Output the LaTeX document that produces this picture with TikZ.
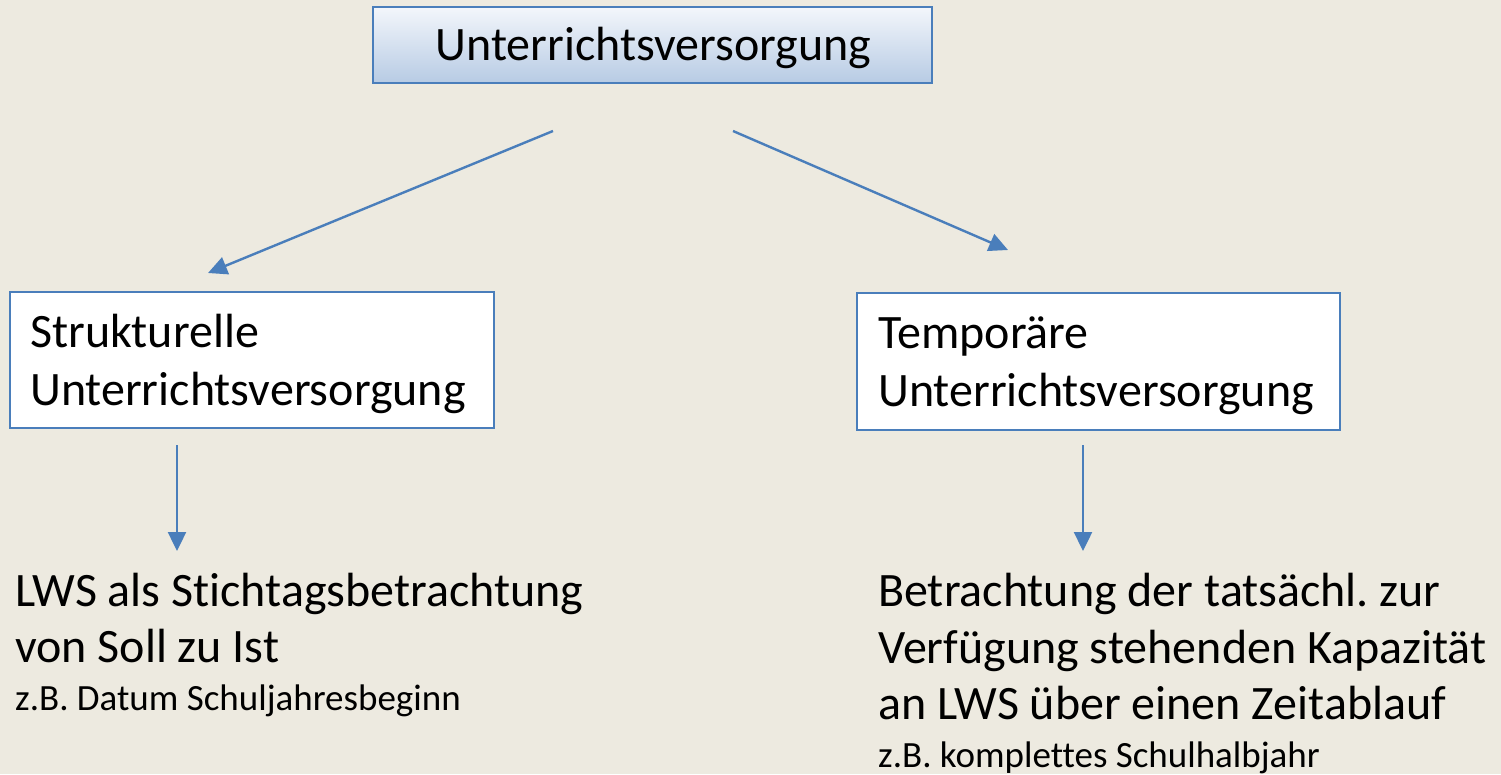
\documentclass[tikz,border=0pt]{standalone}
\usepackage{fontspec}
\setmainfont[Ligatures={NoCommon}]{Carlito}
\usetikzlibrary{arrows.meta}
\definecolor{bg}{HTML}{EDEAE0}
\definecolor{lineblue}{HTML}{4A7EBB}
\definecolor{topfill}{HTML}{F3F6FB}
\definecolor{botfill}{HTML}{B7CBE4}
\tikzset{
  big/.style={font=\frenchspacing\fontsize{48}{57}\selectfont, anchor=base west, inner sep=0pt},
  small/.style={font=\frenchspacing\fontsize{37}{44}\selectfont, anchor=base west, inner sep=0pt},
  arr/.style={draw=lineblue, line width=2.4pt, -{Triangle[length=19pt,width=18pt]}},
  boxline/.style={draw=lineblue, line width=1.8pt, inner sep=0pt}
}
\begin{document}
\begin{tikzpicture}[x=1pt,y=-1pt]
\fill[bg] (0,0) rectangle (1501,774);
\useasboundingbox (0,0) rectangle (1501,774);
% top box
\node[boxline, top color=topfill, bottom color=botfill,
      minimum width=559pt, minimum height=76pt] (top) at (652.5,45) {};
\node[font=\fontsize{48}{57}\selectfont, anchor=base, inner sep=0pt] (toptext) at (653.5,60) {Unterrichtsversorgung};
% left box
\node[boxline, fill=white, minimum width=484pt, minimum height=136pt] (lbox) at (252,360) {};
\node[big] (l1) at (30,347) {Strukturelle};
\node[big] (l2) at (30,405) {Unterrichtsversorgung};
% right box
\node[boxline, fill=white, minimum width=483pt, minimum height=137pt] (rbox) at (1098.5,361.5) {};
\node[big] (r1) at (878,348) {Temporäre};
\node[big] (r2) at (878,406) {Unterrichtsversorgung};
% bottom left text
\node[big] (bl1) at (15,606) {LWS als Stichtagsbetrachtung};
\node[big] (bl2) at (15,662) {von Soll zu Ist};
\node[small] (bl3) at (15,710) {z.B. Datum Schuljahresbeginn};
% bottom right text
\node[big] (br1) at (878,606) {Betrachtung der tatsächl. zur};
\node[big] (br2) at (878,663) {Verfügung stehenden Kapazität};
\node[big] (br3) at (878,719) {an LWS über einen Zeitablauf};
\node[small] (br4) at (878,767) {z.B. komplettes Schulhalbjahr};
% arrow coordinates
\coordinate (a1s) at (553,131);
\coordinate (a1e) at (208,273);
\coordinate (a2s) at (733,131);
\coordinate (a2e) at (1008,250);
\coordinate (a3s) at (177,445);
\coordinate (a3e) at (177,551);
\coordinate (a4s) at (1083,445);
\coordinate (a4e) at (1083,551);
\draw[arr] (a1s) -- (a1e);
\draw[arr] (a2s) -- (a2e);
\draw[arr] (a3s) -- (a3e);
\draw[arr] (a4s) -- (a4e);
\end{tikzpicture}
\end{document}
